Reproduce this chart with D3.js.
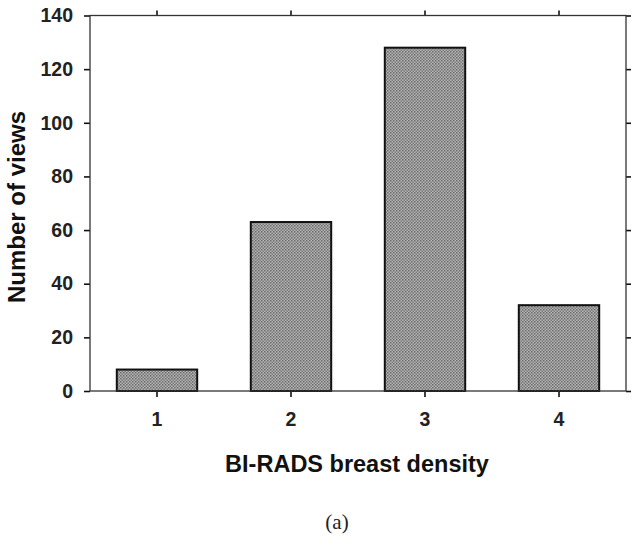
<!DOCTYPE html>
<html><head><meta charset="utf-8">
<script src="https://cdn.jsdelivr.net/npm/d3@7"></script>
<style>body{margin:0;background:#fff}</style>
</head><body>
<svg id="c" width="641" height="542"></svg>
<script>
const categories = ["1", "2", "3", "4"];
const values = [8, 63, 128, 32];
const yTicks = [0, 20, 40, 60, 80, 100, 120, 140];
const xTitle = "BI-RADS breast density";
const yTitle = "Number of views";
const caption = "(a)";

const svg = d3.select("#c");
const L = 90, R = 626, T = 15.5, B = 391;
const x = d3.scaleBand().domain(categories).range([L, R]).paddingInner(0.4).paddingOuter(0.2);
const y = d3.scaleLinear().domain([0, 140]).range([B, T]);

const defs = svg.append("defs");
const pat = defs.append("pattern").attr("id", "dots").attr("patternUnits", "userSpaceOnUse")
  .attr("width", 3).attr("height", 3);
pat.append("rect").attr("width", 3).attr("height", 3).attr("fill", "#b4b4b4");
pat.append("rect").attr("x", 0).attr("y", 0).attr("width", 1.5).attr("height", 1.5).attr("fill", "#6a6a6a");
pat.append("rect").attr("x", 1.5).attr("y", 1.5).attr("width", 1.5).attr("height", 1.5).attr("fill", "#7a7a7a");

svg.append("g").selectAll("rect").data(values).join("rect")
  .attr("x", (d, i) => x(categories[i]))
  .attr("y", d => y(d))
  .attr("width", x.bandwidth())
  .attr("height", d => y(0) - y(d))
  .attr("fill", "url(#dots)")
  .attr("stroke", "#111").attr("stroke-width", 2);

const font = "'Liberation Sans', Arial, sans-serif";
const axCol = "#333";

const gl = svg.append("g").attr("transform", `translate(${L},0)`)
  .call(d3.axisLeft(y).tickValues(yTicks).tickSize(6).tickPadding(11));
const gr = svg.append("g").attr("transform", `translate(${R},0)`)
  .call(d3.axisRight(y).tickValues(yTicks).tickSize(5).tickFormat(""));
const gb = svg.append("g").attr("transform", `translate(0,${B})`)
  .call(d3.axisBottom(x).tickSize(6).tickPadding(15));
const gt = svg.append("g").attr("transform", `translate(0,${T})`)
  .call(d3.axisTop(x).tickSize(5).tickFormat(""));

[gl, gr, gb, gt].forEach(g => {
  g.selectAll(".tick line").attr("stroke", "#111").attr("stroke-width", 1.6);
  g.selectAll(".tick text").attr("font-family", font).attr("font-weight", "bold")
    .attr("font-size", 19.5).attr("fill", "#222");
});
svg.selectAll(".domain").remove();
svg.append("rect").attr("x", L).attr("y", T).attr("width", R - L).attr("height", B - T)
  .attr("fill", "none").attr("stroke", axCol).attr("stroke-width", 1.3);

svg.append("text").attr("transform", `translate(25,207) rotate(-90)`)
  .attr("text-anchor", "middle").attr("font-family", font).attr("font-weight", "bold")
  .attr("font-size", 24).attr("fill", "#111").text(yTitle);
svg.append("text").attr("x", 357).attr("y", 472)
  .attr("text-anchor", "middle").attr("font-family", font).attr("font-weight", "bold")
  .attr("font-size", 23.5).attr("fill", "#111").text(xTitle);
svg.append("text").attr("x", 337).attr("y", 529)
  .attr("text-anchor", "middle").attr("font-family", "'Liberation Serif', 'Times New Roman', serif")
  .attr("font-size", 21).attr("fill", "#222").text(caption);
</script>
</body></html>
